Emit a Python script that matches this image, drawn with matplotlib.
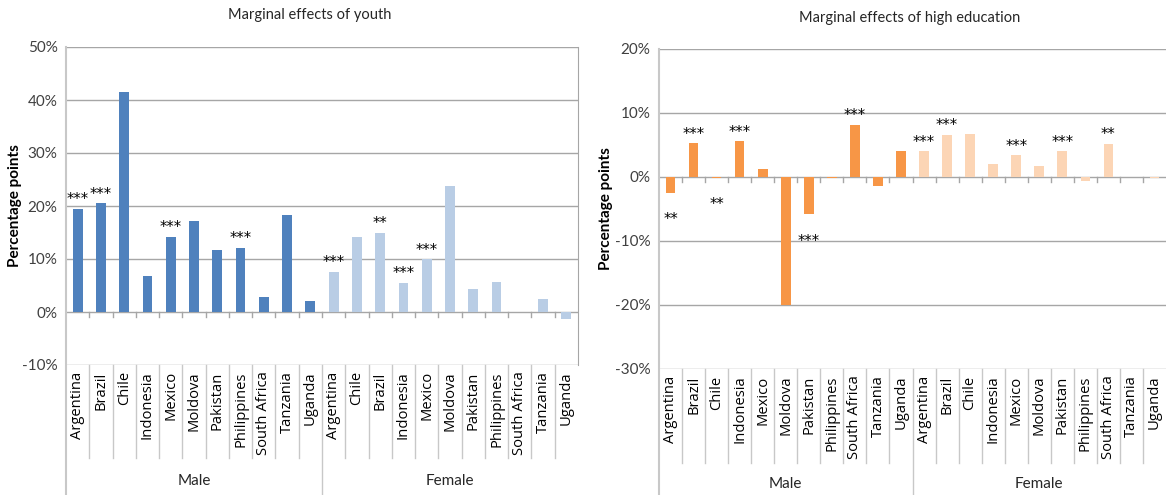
import numpy as np
import matplotlib
matplotlib.use('Agg')
import matplotlib.pyplot as plt
import matplotlib.transforms as mtransforms

plt.rcParams['font.family'] = ['Lato', 'DejaVu Sans']

# DATA
youth_male_countries = ['Argentina', 'Brazil', 'Chile', 'Indonesia', 'Mexico', 'Moldova',
                        'Pakistan', 'Philippines', 'South Africa', 'Tanzania', 'Uganda']
youth_female_countries = ['Argentina', 'Chile', 'Brazil', 'Indonesia', 'Mexico', 'Moldova',
                          'Pakistan', 'Philippines', 'South Africa', 'Tanzania', 'Uganda']
youth_male = [19.5, 20.5, 41.5, 6.8, 14.2, 17.2, 11.7, 12.1, 2.9, 18.3, 2.0]
youth_female = [7.6, 14.2, 15.0, 5.5, 10.0, 23.7, 4.4, 5.6, 0.0, 2.5, -1.3]
youth_male_stars = ['***', '***', '', '', '***', '', '', '***', '', '', '']
youth_female_stars = ['***', '', '**', '***', '***', '', '', '', '', '', '']

edu_countries = ['Argentina', 'Brazil', 'Chile', 'Indonesia', 'Mexico', 'Moldova',
                 'Pakistan', 'Philippines', 'South Africa', 'Tanzania', 'Uganda']
edu_male = [-2.5, 5.3, -0.1, 5.6, 1.2, -20.0, -5.8, -0.1, 8.2, -1.4, 4.1]
edu_female = [4.0, 6.6, 6.7, 2.0, 3.4, 1.7, 4.0, -0.6, 5.2, 0.0, -0.1]
edu_male_stars = ['**', '***', '**', '***', '', '', '***', '', '***', '', '']
edu_female_stars = ['***', '***', '', '', '***', '', '***', '', '**', '', '']

groups = ['Male', 'Female']

GRID = '#A6A6A6'
SEP = '#C8C8C8'


def draw_panel(ax, cats, vals, cols, stars, ylim, yticks, lab_depth, grp_y):
    n = len(vals)
    x = np.arange(n)
    ax.set_xlim(-0.5, n - 0.5)
    ax.set_ylim(*ylim)
    for t in yticks:
        ax.axhline(t, color=GRID, lw=1.0, zorder=1)
    ax.bar(x, vals, width=0.42, color=cols, zorder=3)

    # significance stars
    for xi, v, s in zip(x, vals, stars):
        if not s:
            continue
        if v >= 0:
            ax.annotate(s, (xi, v), xytext=(0, 1), textcoords='offset points',
                        ha='center', va='bottom', fontsize=10.5, family='DejaVu Sans')
        else:
            ax.annotate(s, (xi, v), xytext=(0, -14), textcoords='offset points',
                        ha='center', va='top', fontsize=10.5, family='DejaVu Sans')

    ax.set_yticks(yticks)
    ax.set_yticklabels(['%d%%' % t for t in yticks], fontsize=11, color='#404040')
    ax.tick_params(axis='y', length=0, pad=6)
    ax.set_xticks([])
    for sp in ['top', 'bottom', 'left']:
        ax.spines[sp].set_visible(False)
    ax.spines['right'].set_color(GRID)

    trans = mtransforms.blended_transform_factory(ax.transData, ax.transAxes)
    # tick marks on the zero line
    for b in np.arange(0.5, n - 0.5, 1.0):
        ax.plot([b, b], [0, -(ylim[1] - ylim[0]) * 0.017], color=GRID, lw=1.0,
                zorder=2, clip_on=False)
    # category separators below the plot
    half = n // 2
    for b in np.arange(0.5, n - 0.5, 1.0):
        depth = grp_y[1] if b == half - 0.5 else lab_depth
        ax.plot([b, b], [0, -depth], transform=trans, color=SEP, lw=1.0, clip_on=False)
    ax.plot([-0.5, -0.5], [1, -grp_y[1]], transform=trans, color=SEP, lw=1.5, clip_on=False)

    for xi, c in zip(x, cats):
        ax.text(xi, -0.02, c, transform=trans, rotation=90, ha='center', va='top',
                fontsize=10.6, family='Open Sans', color='black')
    ax.text((half - 1) / 2, -grp_y[0], groups[0], transform=trans, ha='center',
            va='center', fontsize=11, color='#262626')
    ax.text(half + (half - 1) / 2, -grp_y[0], groups[1], transform=trans, ha='center',
            va='center', fontsize=11, color='#262626')


W, H = 1166, 495
fig = plt.figure(figsize=(W / 100, H / 100), dpi=100)

ax1 = fig.add_axes([66 / W, 1 - 365 / H, (578 - 66) / W, (365 - 47) / H])
cols1 = ['#4F81BD'] * 11 + ['#B9CDE5'] * 11
draw_panel(ax1, youth_male_countries + youth_female_countries, youth_male + youth_female,
           cols1, youth_male_stars + youth_female_stars, (-10, 50),
           [-10, 0, 10, 20, 30, 40, 50], 93 / 318, (116 / 318, 130 / 318))

ax2 = fig.add_axes([659 / W, 1 - 369 / H, (1166 - 659) / W, (369 - 49) / H])
cols2 = ['#F79646'] * 11 + ['#FCD5B5'] * 11
draw_panel(ax2, edu_countries + edu_countries, edu_male + edu_female,
           cols2, edu_male_stars + edu_female_stars, (-30, 20),
           [-30, -20, -10, 0, 10, 20], 94 / 320, (115 / 320, 126 / 320))
ax2.spines['right'].set_visible(False)

fig.text(310 / W, 1 - 15 / H, 'Marginal effects of youth', ha='center', va='center',
         fontsize=10.5, color='#262626')
fig.text(910 / W, 1 - 18 / H, 'Marginal effects of high education', ha='center',
         va='center', fontsize=10.5, color='#262626')
fig.text(15 / W, 1 - 206 / H, 'Percentage points', rotation=90, ha='center', va='center',
         fontsize=11, fontweight='bold')
fig.text(606 / W, 1 - 209 / H, 'Percentage points', rotation=90, ha='center', va='center',
         fontsize=11, fontweight='bold')

fig.savefig('out.png', dpi=100)
